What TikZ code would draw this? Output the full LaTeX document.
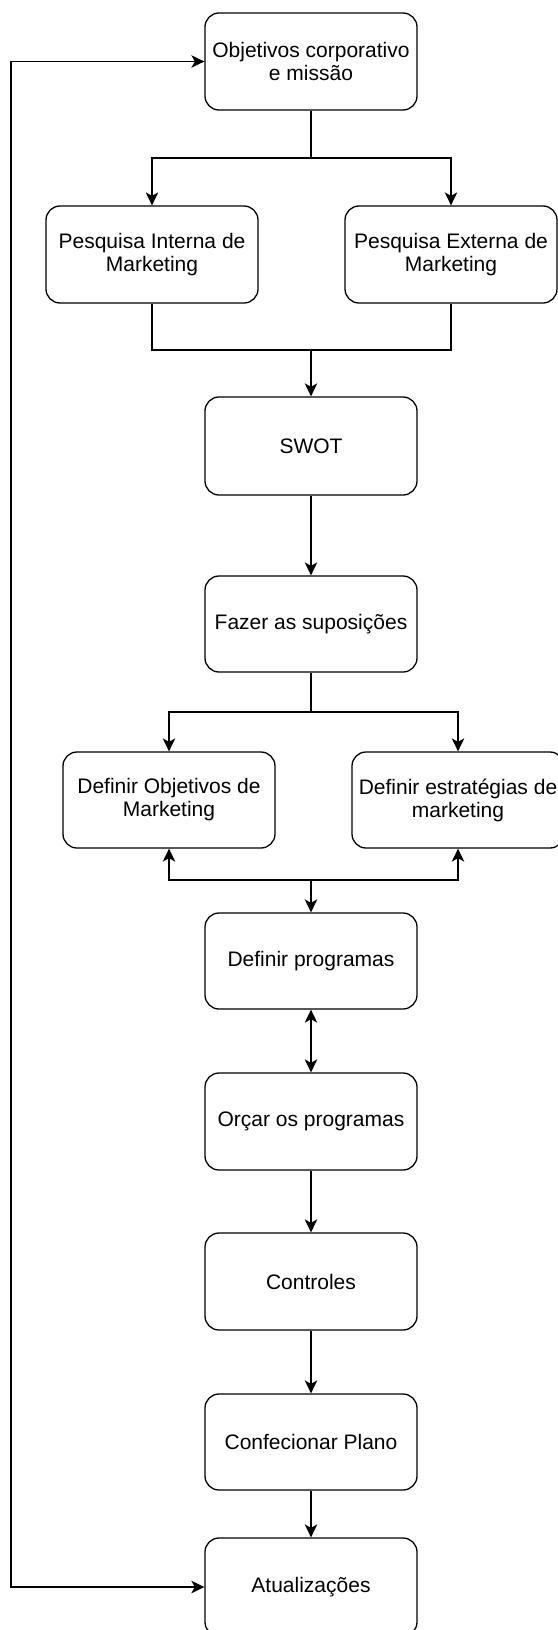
\documentclass[tikz,border=0pt]{standalone}
\usepackage{fontspec}
\setmainfont{Liberation Sans}
\usetikzlibrary{arrows.meta}
\begin{document}
\begin{tikzpicture}[x=1bp,y=-1bp,
  box/.style={draw=black, line width=1.3bp, rounded corners=14bp, minimum width=212bp, minimum height=97bp, inner sep=0pt, align=center, font=\fontsize{21bp}{23bp}\selectfont},
  conn/.style={draw=black, line width=1.3bp},
  tip/.tip={Stealth[length=13bp,width=12.5bp,inset=3.5bp]},
  arr/.style={conn, -tip},
  darr/.style={conn, tip-tip}]
\useasboundingbox (0,0) rectangle (558,1630);
\clip (0,0) rectangle (558,1630);
\node[box] (obj) at (311,61.5) {Objetivos corporativo\\e missão};
\node[box] (pint) at (152,254.5) {Pesquisa Interna de\\Marketing};
\node[box] (pext) at (451,254.5) {Pesquisa Externa de\\Marketing};
\node[box, minimum height=98bp] (swot) at (311,446) {SWOT};
\node[box, minimum height=96bp] (fazer) at (311,624) {Fazer as suposições};
\node[box, minimum height=96bp] (dobj) at (169,800) {Definir Objetivos de\\Marketing};
\node[box, minimum height=96bp] (dest) at (458,800) {Definir estratégias de\\marketing};
\node[box, minimum height=96bp] (dprog) at (311,961) {Definir programas};
\node[box] (orcar) at (311,1121.5) {Orçar os programas};
\node[box] (contr) at (311,1281.5) {Controles};
\node[box, minimum height=96bp] (conf) at (311,1442) {Confecionar Plano};
\node[box, minimum height=98bp] (atual) at (311,1587) {Atualizações};
\coordinate (j1) at (311,158);
\coordinate (j2) at (311,350);
\coordinate (j3) at (311,712);
\coordinate (j4) at (311,880);
\coordinate (lp) at (11,1587);
\draw[conn] (obj.south) -- (j1);
\draw[arr] (j1) -| (pint.north);
\draw[arr] (j1) -| (pext.north);
\draw[conn] (pint.south) |- (j2);
\draw[conn] (pext.south) |- (j2);
\draw[arr] (j2) -- (swot.north);
\draw[arr] (swot) -- (fazer);
\draw[conn] (fazer.south) -- (j3);
\draw[arr] (j3) -| (dobj.north);
\draw[arr] (j3) -| (dest.north);
\draw[darr] (dobj.south) |- (j4) -| (dest.south);
\draw[arr] (j4) -- (dprog.north);
\draw[darr] (dprog) -- (orcar);
\draw[arr] (orcar) -- (contr);
\draw[arr] (contr) -- (conf);
\draw[arr] (conf) -- (atual);
\draw[darr] (atual.west) -- (lp) |- (obj.west);
\end{tikzpicture}
\end{document}
